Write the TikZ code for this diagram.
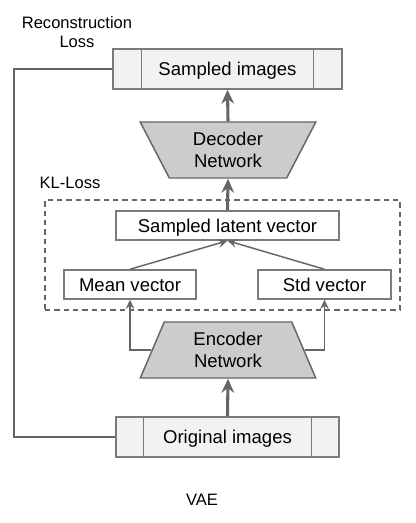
\documentclass[tikz,border=0pt]{standalone}
\usepackage{fontspec}
\setmainfont{Liberation Sans}
\usetikzlibrary{shapes.geometric, arrows.meta, calc}
\definecolor{linegray}{HTML}{666666}
\definecolor{boxgray}{HTML}{7A7A7A}
\definecolor{imgfill}{HTML}{F2F2F2}
\definecolor{netfill}{HTML}{CCCCCC}

\begin{document}
\begin{tikzpicture}[x=0.75pt, y=-0.75pt,
  font=\fontsize{13.9}{16.5}\selectfont,
  vecbox/.style={draw=boxgray, line width=1.1pt, fill=white, rectangle, inner sep=0pt, minimum height=21.75pt,
    text height=10pt, text depth=0pt},
  imgbox/.style={vecbox, fill=imgfill, minimum height=30pt},
  netbox/.style={draw=linegray, line width=1.1pt, fill=netfill, trapezium, trapezium stretches=true,
    minimum width=132pt, minimum height=42pt, align=center, inner sep=0pt},
  lbl/.style={font=\fontsize{12.4}{14.5}\selectfont, align=center, inner sep=0pt}]
\useasboundingbox (0,0) rectangle (416,523);

\node[imgbox, minimum width=171.75pt] (samp) at (227.5,69) {Sampled images};
\node[netbox, shape border rotate=180, trapezium angle=64] (dec) at (228,150) {Decoder\\Network};
\node[draw=linegray, line width=0.9pt, dash pattern=on 4pt off 3pt, minimum width=266.25pt, minimum height=82.5pt, inner sep=0pt] (kl box) at (222.5,255) {};
\node[vecbox, minimum width=167.25pt] (latent) at (227.5,225.5) {Sampled latent vector};
\node[vecbox, minimum width=99pt] (mean) at (130,284.5) {Mean vector};
\node[vecbox, minimum width=99.75pt] (std) at (324.5,284.5) {Std vector};
\node[netbox, trapezium angle=70] (enc) at (228,350) {Encoder\\Network};
\node[imgbox, minimum width=167.25pt] (orig) at (227.5,437) {Original images};

\node[lbl] (recon) at (77,32) {Reconstruction\\Loss};
\node[lbl] (kl) at (70,183) {KL-Loss};
\node[lbl] (vae) at (202,500) {VAE};
\coordinate (loop) at (14,69);

% side cells of the image boxes
\draw[boxgray, line width=1.1pt] ($(samp.north west)+(29,0)$) -- ($(samp.south west)+(29,0)$);
\draw[boxgray, line width=1.1pt] ($(samp.north east)+(-29,0)$) -- ($(samp.south east)+(-29,0)$);
\draw[boxgray, line width=1.1pt] ($(orig.north west)+(28,0)$) -- ($(orig.south west)+(28,0)$);
\draw[boxgray, line width=1.1pt] ($(orig.north east)+(-28,0)$) -- ($(orig.south east)+(-28,0)$);

\draw [->, linegray, line width=2.3pt, >={Stealth[length=10.5pt, width=9.5pt, inset=3.5pt]}] (dec.north)--(samp.south);
\draw [->, linegray, line width=2.3pt, >={Stealth[length=10.5pt, width=9.5pt, inset=3.5pt]}] (latent.north)--(dec.south);
\draw [->, linegray, line width=2.3pt, >={Stealth[length=10.5pt, width=9.5pt, inset=3.5pt]}] (orig.north)--(enc.south);
\draw [->, linegray, line width=1.1pt, >={Stealth[length=7pt, width=6.5pt, inset=2.5pt]}] (mean.north)--(latent.south);
\draw [->, linegray, line width=1.1pt, >={Stealth[length=7pt, width=6.5pt, inset=2.5pt]}] (std.north)--(latent.south);
\draw [->, linegray, line width=1.1pt, >={Stealth[length=7pt, width=6.5pt, inset=2.5pt]}] (enc.west) -| (mean.south);
\draw [->, linegray, line width=1.1pt, >={Stealth[length=7pt, width=6.5pt, inset=2.5pt]}] (enc.east) -| (std.south);
% Reconstruction loss:
\draw [linegray, line width=1.3pt] (samp.west)--(loop) |- (orig.west);
\end{tikzpicture}
\end{document}
